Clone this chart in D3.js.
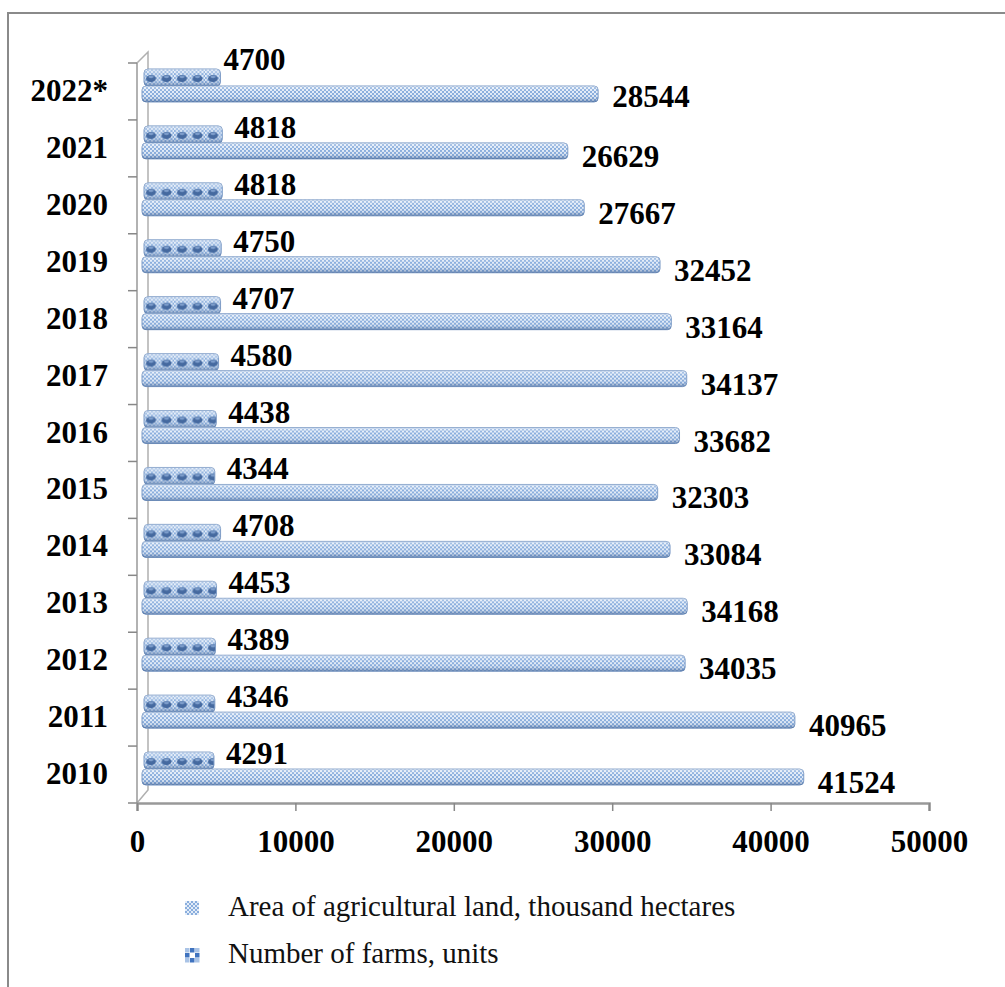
<!DOCTYPE html>
<style>
    body { margin: 0; background: #fff; }
    .val { font: bold 31px "Times New Roman", "Liberation Serif", serif; fill: #000; }
    .legend text { font: 29px "Times New Roman", "Liberation Serif", serif; fill: #111; }
</style>
<body>
<script src="https://d3js.org/d3.v7.min.js"></script>
<script>
    // data (bottom to top)
    var years = ["2010", "2011", "2012", "2013", "2014", "2015", "2016", "2017", "2018", "2019", "2020", "2021", "2022*"];
    var areaLand = [41524, 40965, 34035, 34168, 33084, 32303, 33682, 34137, 33164, 32452, 27667, 26629, 28544];
    var farms = [4291, 4346, 4389, 4453, 4708, 4344, 4438, 4580, 4707, 4750, 4818, 4818, 4700];
    var xTicks = [0, 10000, 20000, 30000, 40000, 50000];
    var legendLabels = ["Area of agricultural land, thousand hectares", "Number of farms, units"];

    var svg = d3.select("body").append("svg")
        .attr("width", 1005)
        .attr("height", 987);

    var x = d3.scaleLinear().domain([0, 50000]).range([137, 929]);
    var y = d3.scaleBand().domain(years.slice().reverse()).range([63, 803]);

    var defs = svg.append("defs");

    // fine lattice used by the area bars
    var lat = defs.append("pattern").attr("id", "lattice")
        .attr("patternUnits", "userSpaceOnUse").attr("width", 4).attr("height", 4);
    lat.append("rect").attr("width", 4).attr("height", 4).attr("fill", "#8aaedd");
    lat.append("rect").attr("width", 2).attr("height", 2).attr("fill", "#e3ecf8");
    lat.append("rect").attr("x", 2).attr("y", 2).attr("width", 2).attr("height", 2).attr("fill", "#e3ecf8");

    // farms bar: lattice with a row of dark blue knobs
    var fp = defs.append("pattern").attr("id", "farmsPat")
        .attr("patternUnits", "userSpaceOnUse").attr("x", 143).attr("width", 15.5).attr("height", 60);
    fp.append("rect").attr("width", 15.5).attr("height", 60).attr("fill", "url(#lattice)");
    fp.append("ellipse").attr("cx", 8).attr("cy", 15.5).attr("rx", 5).attr("ry", 3.6).attr("fill", "#43689f");
    fp.append("ellipse").attr("cx", 8).attr("cy", 13.8).attr("rx", 2.6).attr("ry", 1.4).attr("fill", "#7b9ccb");

    // cylinder shading
    var sh = defs.append("linearGradient").attr("id", "shade")
        .attr("x1", 0).attr("y1", 0).attr("x2", 0).attr("y2", 1);
    sh.append("stop").attr("offset", 0).attr("stop-color", "#ffffff").attr("stop-opacity", 0.35);
    sh.append("stop").attr("offset", 0.35).attr("stop-color", "#ffffff").attr("stop-opacity", 0);
    sh.append("stop").attr("offset", 0.75).attr("stop-color", "#2a4f86").attr("stop-opacity", 0.08);
    sh.append("stop").attr("offset", 1).attr("stop-color", "#2a4f86").attr("stop-opacity", 0.5);

    // chart border
    svg.append("rect")
        .attr("x", 8).attr("y", 13).attr("width", 1100).attr("height", 1100)
        .attr("fill", "none").attr("stroke", "#8a8a8a").attr("stroke-width", 2);

    // back wall of the 3d plot
    svg.append("path")
        .attr("d", "M" + x(0) + "," + y.range()[0] + "L" + (x(0) + 11) + "," + (y.range()[0] - 11) +
                   "V" + (y.range()[1] - 13) + "L" + x(0) + "," + y.range()[1])
        .attr("fill", "none").attr("stroke", "#b0b0b0").attr("stroke-width", 1.5);

    // left axis with ticks at band boundaries
    var bounds = years.map(function(d) { return y(d); }).concat([y.range()[1]]);
    svg.append("line")
        .attr("x1", x(0)).attr("x2", x(0)).attr("y1", y.range()[0]).attr("y2", y.range()[1])
        .attr("stroke", "#999").attr("stroke-width", 1.5);
    svg.selectAll(".ytick").data(bounds).enter().append("line")
        .attr("x1", x(0) - 9).attr("x2", x(0))
        .attr("y1", function(d) { return d; }).attr("y2", function(d) { return d; })
        .attr("stroke", "#888").attr("stroke-width", 1.5);

    // bottom axis
    var xAxis = svg.append("g")
        .attr("transform", "translate(0," + y.range()[1] + ")")
        .call(d3.axisBottom(x).tickValues(xTicks).tickSize(8).tickFormat(d3.format("d")));
    xAxis.select(".domain").attr("stroke", "#999").attr("stroke-width", 2.5);
    xAxis.selectAll(".tick line").attr("stroke", "#888").attr("stroke-width", 1.5);
    xAxis.selectAll(".tick text")
        .attr("class", "val").attr("y", 49).attr("dy", 0)
        .style("font", 'bold 31px "Times New Roman", "Liberation Serif", serif').attr("fill", "#000");

    var rows = years.map(function(d, i) { return { year: d, area: areaLand[i], farms: farms[i] }; });

    var g = svg.selectAll(".row").data(rows).enter().append("g")
        .attr("class", "row")
        .attr("transform", function(d) { return "translate(0," + y(d.year) + ")"; });

    // farms bar (upper)
    g.append("rect")
        .attr("x", x(0) + 7).attr("y", 6)
        .attr("width", function(d) { return x(d.farms) + 9 - x(0) - 7; })
        .attr("height", 17).attr("rx", 4)
        .attr("fill", "url(#farmsPat)").attr("stroke", "#7e9cc6").attr("stroke-width", 1);
    g.append("rect")
        .attr("x", x(0) + 7).attr("y", 6)
        .attr("width", function(d) { return x(d.farms) + 9 - x(0) - 7; })
        .attr("height", 17).attr("rx", 4)
        .attr("fill", "url(#shade)");

    // area bar (lower)
    g.append("rect")
        .attr("x", x(0) + 5).attr("y", 23)
        .attr("width", function(d) { return x(d.area) + 9 - x(0) - 5; })
        .attr("height", 16).attr("rx", 4)
        .attr("fill", "url(#lattice)").attr("stroke", "#7e9cc6").attr("stroke-width", 1);
    g.append("rect")
        .attr("x", x(0) + 5).attr("y", 23)
        .attr("width", function(d) { return x(d.area) + 9 - x(0) - 5; })
        .attr("height", 16).attr("rx", 4)
        .attr("fill", "url(#shade)");

    // value labels
    g.append("text").attr("class", "val")
        .attr("x", function(d) { return d.year === "2022*" ? x(d.farms) + 12 : x(d.farms) + 21; })
        .attr("y", function(d) { return d.year === "2022*" ? 7 : 18; })
        .text(function(d) { return d.farms; });
    g.append("text").attr("class", "val")
        .attr("x", function(d) { return x(d.area) + 23; })
        .attr("y", function(d) { return d.year === "2022*" ? 44 : 47; })
        .text(function(d) { return d.area; });

    // category labels
    g.append("text").attr("class", "val")
        .attr("x", 108).attr("y", 38)
        .attr("text-anchor", "end")
        .text(function(d) { return d.year; });

    // legend
    var lg = svg.append("g").attr("class", "legend");
    var li = lg.selectAll("g").data(legendLabels).enter().append("g")
        .attr("transform", function(d, i) { return "translate(185," + (901 + i * 47) + ")"; });
    li.append("rect").attr("width", 14).attr("height", 14)
        .attr("fill", function(d, i) { return i === 0 ? "url(#lattice)" : "#fff"; });
    // checker marker for farms
    li.filter(function(d, i) { return i === 1; }).selectAll("rect.c")
        .data([[5, 0], [0, 5], [10, 5], [5, 10], [0, 0], [10, 0], [0, 10], [10, 10]])
        .enter().append("rect").attr("class", "c")
        .attr("x", function(d) { return d[0]; }).attr("y", function(d) { return d[1]; })
        .attr("width", 4.5).attr("height", 4.5)
        .attr("fill", function(d, i) { return i < 4 ? "#3f73bf" : "#a9c3e6"; });
    li.append("text").attr("x", 43).attr("y", 15).text(function(d) { return d; });
</script>
</body>
